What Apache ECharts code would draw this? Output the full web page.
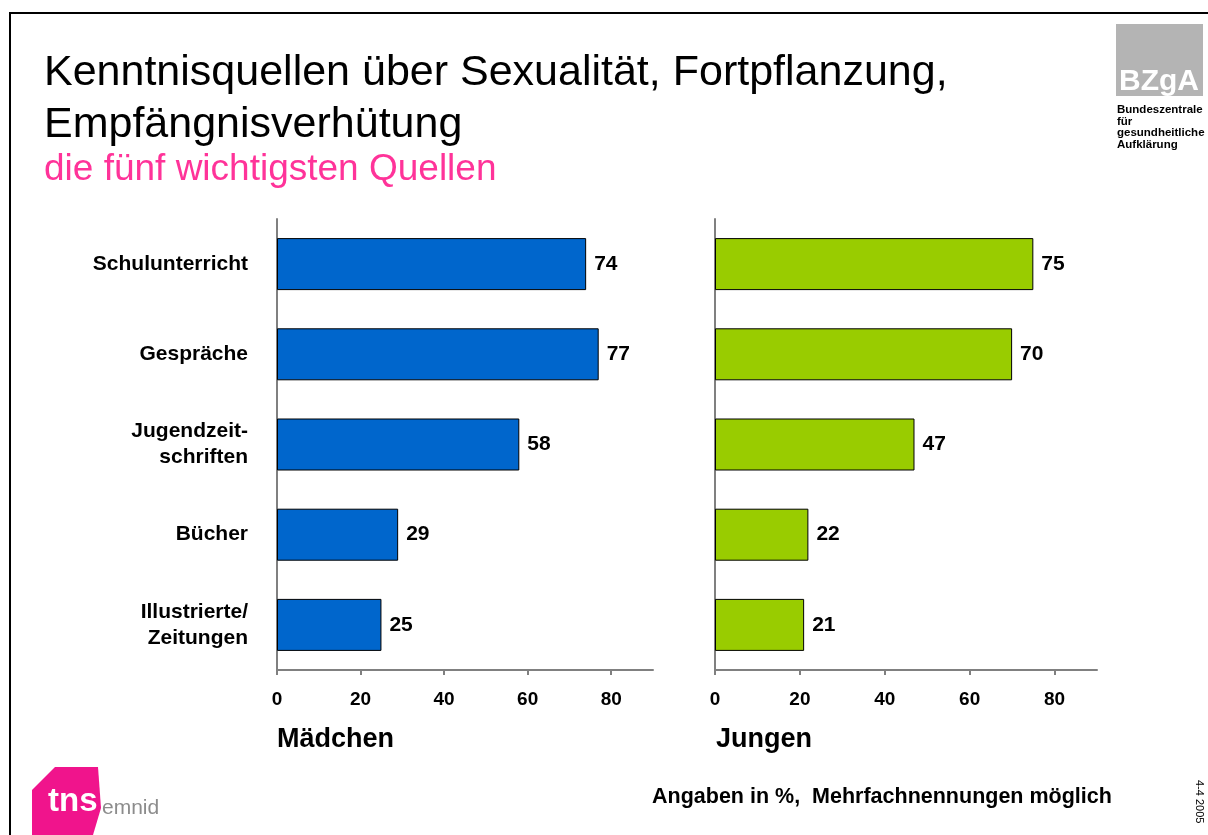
<!DOCTYPE html>
<html>
<head>
<meta charset="utf-8">
<script src="https://cdn.jsdelivr.net/npm/echarts@6/dist/echarts.min.js"></script>
<style>
  html, body { margin: 0; padding: 0; background: #fff; }
  #chart { width: 1208px; height: 835px; }
</style>
</head>
<body>
<div id="chart"></div>
<script>
// Data
const categories = ['Schulunterricht', 'Gespräche', 'Jugendzeit-\nschriften', 'Bücher', 'Illustrierte/\nZeitungen'];
const girlsValues = [74, 77, 58, 29, 25];
const boysValues = [75, 70, 47, 22, 21];
const tickValues = [0, 20, 40, 60, 80];

const FONT = "'Liberation Sans', Arial, sans-serif";
const AXIS_GREY = '#808080';

const chart = echarts.init(document.getElementById('chart'));

// one value axis per panel
const valueAxis = (gridIndex) => ({
    type: 'value',
    gridIndex: gridIndex,
    min: 0,
    max: 90,
    interval: 20,
    splitLine: { show: false },
    axisLine: { show: true, lineStyle: { color: AXIS_GREY, width: 2 } },
    axisTick: { show: true, length: 5, customValues: tickValues, lineStyle: { color: AXIS_GREY, width: 2 } },
    axisLabel: {
        customValues: tickValues,
        margin: 20,
        color: '#000',
        fontFamily: FONT,
        fontWeight: 'bold',
        fontSize: 19
    }
});

const categoryAxis = (gridIndex, showLabels) => ({
    type: 'category',
    gridIndex: gridIndex,
    inverse: true,
    data: categories,
    axisTick: { show: false },
    axisLine: { show: true, lineStyle: { color: AXIS_GREY, width: 2 } },
    axisLabel: {
        show: showLabels,
        margin: 29,
        color: '#000',
        fontFamily: FONT,
        fontWeight: 'bold',
        fontSize: 21,
        lineHeight: 26,
        align: 'right'
    }
});

const barSeries = (idx, values, color) => ({
    type: 'bar',
    xAxisIndex: idx,
    yAxisIndex: idx,
    data: values,
    barWidth: 52,
    itemStyle: { color: color, borderColor: '#000', borderWidth: 1 },
    label: {
        show: true,
        position: 'right',
        distance: 8,
        color: '#000',
        fontFamily: FONT,
        fontWeight: 'bold',
        fontSize: 21
    }
});

chart.setOption({
    animation: false,
    backgroundColor: '#fff',
    grid: [
        { left: 277, top: 219, width: 376, height: 451 },
        { left: 715, top: 219, width: 382, height: 451 }
    ],
    xAxis: [valueAxis(0), valueAxis(1)],
    yAxis: [categoryAxis(0, true), categoryAxis(1, false)],
    series: [
        barSeries(0, girlsValues, '#0066cc'),
        barSeries(1, boysValues, '#99cc00')
    ],
    graphic: [
        // frame lines (left + top)
        {
            type: 'polyline',
            shape: { points: [[10, 835], [10, 13], [1208, 13]] },
            style: { stroke: '#000', lineWidth: 2, fill: null }
        },
        // slide title
        {
            type: 'text', left: 44, top: 47,
            style: {
                text: 'Kenntnisquellen über Sexualität, Fortpflanzung,\nEmpfängnisverhütung',
                font: '43px ' + FONT, fill: '#000', lineHeight: 52
            }
        },
        {
            type: 'text', left: 44, top: 151,
            style: { text: 'die fünf wichtigsten Quellen', font: '37px ' + FONT, fill: '#ff3399' }
        },
        // panel names
        {
            type: 'text', left: 277, top: 726,
            style: { text: 'Mädchen', font: 'bold 27px ' + FONT, fill: '#000' }
        },
        {
            type: 'text', left: 716, top: 726,
            style: { text: 'Jungen', font: 'bold 27px ' + FONT, fill: '#000' }
        },
        // footnote
        {
            type: 'text', left: 652, top: 786,
            style: { text: 'Angaben in %,  Mehrfachnennungen möglich', font: 'bold 21.5px ' + FONT, fill: '#000' }
        },
        // date, rotated
        {
            type: 'text', x: 1205, y: 780, rotation: -Math.PI / 2,
            style: { text: '4-4 2005', font: '11px ' + FONT, fill: '#000' }
        },
        // BZgA logo
        {
            type: 'rect',
            shape: { x: 1116, y: 24, width: 87, height: 72 },
            style: { fill: '#b4b4b4' }
        },
        {
            type: 'text', x: 1119, y: 97,
            style: { text: 'BZgA', font: 'bold 30px ' + FONT, fill: '#fff', textVerticalAlign: 'bottom' }
        },
        {
            type: 'text', left: 1117, top: 104,
            style: {
                text: 'Bundeszentrale\nfür\ngesundheitliche\nAufklärung',
                font: 'bold 11.5px ' + FONT, fill: '#000', lineHeight: 11.5
            }
        },
        // tns emnid logo
        {
            type: 'polygon',
            shape: { points: [[32, 790], [55, 767], [98, 767], [101, 808], [93, 835], [32, 835]] },
            style: { fill: '#f0148c' }
        },
        {
            type: 'text', x: 48, y: 818,
            style: { text: 'tns', font: 'bold 33px ' + FONT, fill: '#fff', textVerticalAlign: 'bottom' }
        },
        {
            type: 'text', x: 102, y: 819,
            style: { text: 'emnid', font: '21px ' + FONT, fill: '#8c8c8c', textVerticalAlign: 'bottom' }
        }
    ]
});
</script>
</body>
</html>
